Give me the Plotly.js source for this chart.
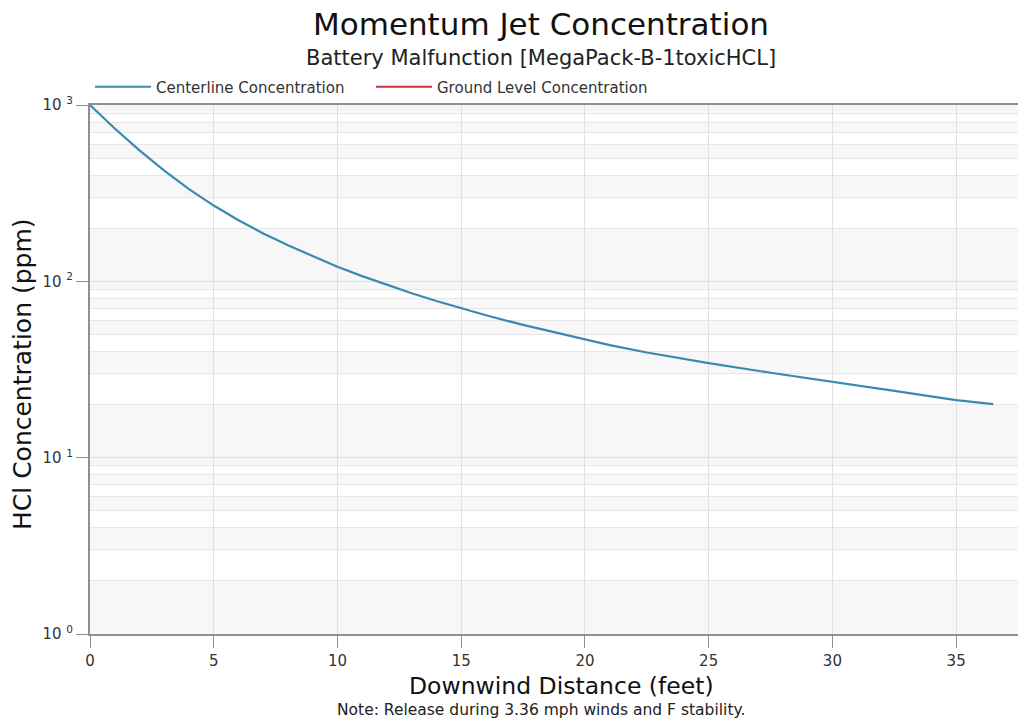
<!DOCTYPE html>
<html>
<head>
<meta charset="utf-8">
<script src="https://cdn.plot.ly/plotly-3.0.1.min.js"></script>
<style>html,body{margin:0;padding:0;background:#fff;}#chart{width:1024px;height:721px;}</style>
</head>
<body>
<div id="chart"></div>
<script>
// Downwind distance (feet)
const distance = [0, 1, 2, 3, 4, 5, 6, 7, 8, 9, 10, 11, 12, 13, 14, 15, 16, 17.5, 19, 20, 21, 22.5, 25, 27.5, 30, 32.5, 35, 36.5];
// Centerline concentration (ppm)
const centerline = [1000, 736, 553, 424, 333, 269, 222, 187, 160, 139, 121, 107, 95.3, 85.5, 77.3, 70.3, 64.2, 56.6, 50.4, 46.9, 43.5, 39.5, 34.4, 30.3, 27.0, 23.9, 21.2, 20.1];
// Ground level concentration (ppm) - below the visible range
const groundDistance = [0];
const groundLevel = [null];

const yTickVals = [1, 10, 100, 1000];
const yTickText = ['10 <sup>0</sup>', '10 <sup>1</sup>', '10 <sup>2</sup>', '10 <sup>3</sup>'];
const xTickVals = [0, 5, 10, 15, 20, 25, 30, 35];

const titleText = 'Momentum Jet Concentration';
const subtitleText = 'Battery Malfunction [MegaPack-B-1toxicHCL]';
const xTitleText = 'Downwind Distance (feet)';
const yTitleText = 'HCl Concentration (ppm)';
const noteText = 'Note: Release during 3.36 mph winds and F stability.';

// alternating bands between minor gridlines
const shapes = [];
[1, 10, 100].forEach(d => {
  [1, 3, 5, 7, 9].forEach(k => {
    shapes.push({type: 'rect', xref: 'paper', yref: 'y', x0: 0, x1: 1, y0: k * d, y1: (k + 1) * d,
      fillcolor: '#f7f7f7', line: {width: 0}, layer: 'below'});
  });
});

const FONT = 'DejaVu Sans, Verdana, sans-serif';
const PW = 928, PH = 529, L = 90, T = 105;
const px = v => (v - L) / PW;
const py = v => 1 - (v - T) / PH;

const traces = [
  {x: distance, y: centerline, type: 'scatter', mode: 'lines', name: 'Centerline Concentration',
   line: {color: '#3a8ab0', width: 2.2}},
  {x: groundDistance, y: groundLevel, type: 'scatter', mode: 'lines', name: 'Ground Level Concentration',
   line: {color: '#c8323c', width: 2}}
];

const layout = {
  width: 1024, height: 721,
  margin: {l: L, r: 6, t: T, b: 87, pad: 0},
  paper_bgcolor: '#ffffff', plot_bgcolor: '#ffffff',
  font: {family: FONT, color: '#333333', size: 15},
  title: {text: titleText, x: 541 / 1024, xref: 'container', xanchor: 'center', y: 1 - 24 / 721, yref: 'container', yanchor: 'middle',
          font: {size: 31, color: '#111111', family: FONT}},
  showlegend: true,
  legend: {orientation: 'h', x: 0, xanchor: 'left', y: py(87), yanchor: 'middle',
           font: {size: 15, color: '#333333'}, bgcolor: 'rgba(0,0,0,0)', itemwidth: 56,
           entrywidth: 210, entrywidthmode: 'pixels', traceorder: 'normal'},
  xaxis: {
    type: 'linear', range: [0, 37.5], tickvals: xTickVals, ticktext: xTickVals.map(String),
    showgrid: true, gridcolor: '#e0e0e0', gridwidth: 1, zeroline: false,
    showline: true, linecolor: '#909090', linewidth: 2, mirror: true,
    ticks: 'outside', ticklen: 12, tickcolor: '#909090', tickwidth: 1,
    tickfont: {size: 15, color: '#333333'}
  },
  yaxis: {
    type: 'log', range: [0, 3], tickvals: yTickVals, ticktext: yTickText,
    showgrid: true, gridcolor: '#e0e0e0', gridwidth: 1, zeroline: false,
    showline: true, linecolor: '#909090', linewidth: 2, mirror: false,
    ticks: 'outside', ticklen: 12, tickcolor: '#909090', tickwidth: 1,
    tickfont: {size: 15, color: '#333333'},
    minor: {dtick: 'D1', showgrid: true, gridcolor: '#e6e6e6', ticks: ''}
  },
  shapes: shapes,
  annotations: [
    {text: subtitleText, xref: 'paper', yref: 'paper', x: px(541), y: py(58),
     xanchor: 'center', yanchor: 'middle', showarrow: false, font: {size: 21, color: '#222222'}},
    {text: xTitleText, xref: 'paper', yref: 'paper', x: px(561), y: py(686),
     xanchor: 'center', yanchor: 'middle', showarrow: false, font: {size: 23.5, color: '#111111'}},
    {text: yTitleText, xref: 'paper', yref: 'paper', x: px(22), y: py(374), textangle: -90,
     xanchor: 'center', yanchor: 'middle', showarrow: false, font: {size: 25, color: '#111111'}},
    {text: noteText, xref: 'paper', yref: 'paper', x: px(541), y: py(710),
     xanchor: 'center', yanchor: 'middle', showarrow: false, font: {size: 15.5, color: '#222222'}}
  ]
};

Plotly.newPlot('chart', traces, layout, {displayModeBar: false, staticPlot: true});
</script>
</body>
</html>
